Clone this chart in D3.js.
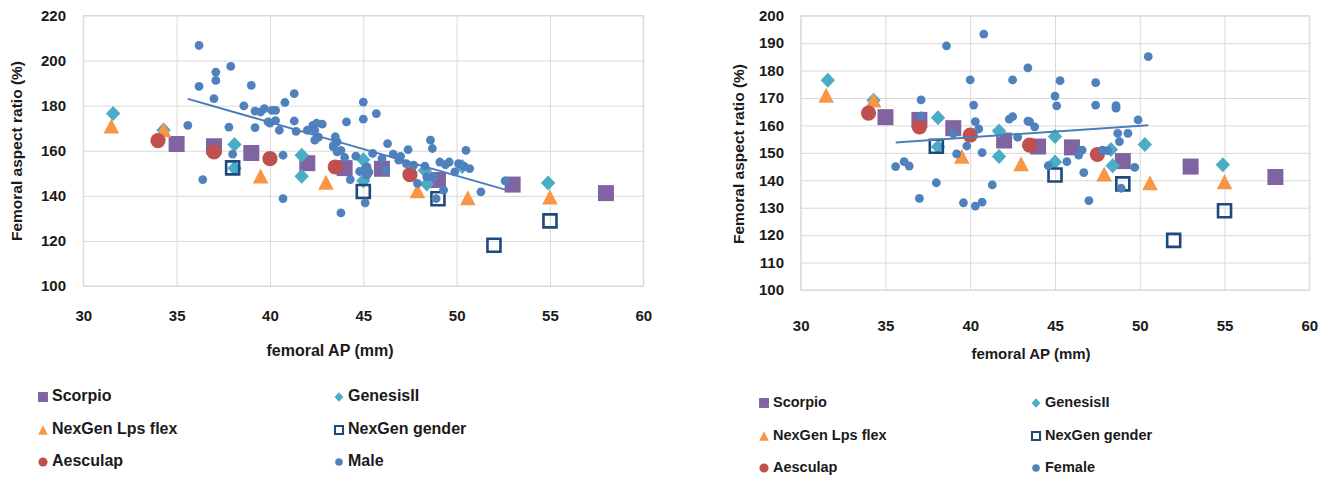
<!DOCTYPE html>
<html>
<head>
<meta charset="utf-8">
<script src="https://cdn.jsdelivr.net/npm/d3@7"></script>
<style>
  body { margin: 0; background: #fff; }
  text { font-family: "Liberation Sans", Arial, sans-serif; font-weight: bold; fill: #1a1a1a; }
</style>
</head>
<body>
<svg id="chart" width="1330" height="477"></svg>
<script>
// implant sizes: [femoral AP (mm), aspect ratio (%)]
const scorpio = [[35, 163], [37, 162], [39, 159], [42, 154.5], [44, 152.3], [46, 152], [49, 147], [53, 145], [58, 141.2]];
const genesisII = [[31.6, 176.5], [34.3, 169.2], [38.1, 162.8], [38.1, 152.2], [41.7, 158], [41.7, 148.7],
  [45, 156], [45, 146.7], [48.3, 151.2], [48.4, 145.3], [50.3, 153], [54.9, 145.7]];
const nexgenLps = [[31.5, 171], [34.3, 169.3], [39.5, 148.8], [43, 146], [47.9, 142.3], [50.6, 139.1], [55, 139.5]];
const nexgenGender = [[38, 152.4], [45, 141.9], [49, 138.7], [52, 118.1], [55, 128.9]];
const aesculap = [[34, 164.5], [37, 159.5], [40, 156.5], [43.5, 152.8], [47.5, 149.4]];

// measured population
const male = [
  [36.2, 206.7], [37.9, 197.4], [37.1, 194.9], [37.1, 191.2], [36.2, 188.6], [39.0, 189.0], [41.3, 185.3],
  [37.0, 183.1], [40.8, 181.4], [38.6, 179.9], [39.2, 177.6], [39.7, 178.7], [40.3, 177.9], [39.5, 177.2],
  [40.1, 177.9], [39.9, 172.8], [40.3, 173.4], [40.0, 172.3], [39.2, 170.3], [40.5, 169.1], [41.3, 173.2],
  [35.6, 171.3], [37.8, 170.5], [41.4, 168.6], [42.0, 169.1], [42.3, 171.3], [42.5, 172.2], [42.8, 171.8],
  [42.4, 169.1], [42.4, 164.7], [42.6, 166.0], [43.5, 166.2], [43.4, 162.4], [43.6, 163.9], [38.0, 158.5],
  [40.7, 158.0], [36.4, 147.2], [40.7, 138.8], [43.8, 132.4], [45.0, 181.6], [45.7, 176.5], [45.0, 174.0],
  [44.1, 172.8], [43.4, 161.7], [43.8, 160.2], [44.6, 157.6], [45.5, 158.8], [46.3, 163.2], [46.6, 158.5],
  [46.9, 155.8], [47.4, 160.5], [48.6, 164.7], [48.7, 161.0], [47.7, 153.6], [47.3, 154.3], [49.1, 155.0],
  [49.6, 155.0], [50.1, 154.3], [50.4, 153.1], [50.7, 152.1], [50.5, 160.2], [49.9, 150.6], [45.1, 152.1],
  [45.2, 149.2], [45.3, 150.5], [44.3, 147.2], [47.9, 145.5], [48.4, 148.4], [48.8, 148.4], [49.3, 142.5],
  [48.9, 138.8], [45.1, 136.9], [51.3, 141.8], [52.6, 146.6], [46.2, 151.4], [45.2, 152.8], [43.6, 159.5],
  [44.0, 157.0], [46.0, 156.5], [47.0, 157.5], [48.3, 153.2], [49.4, 153.8], [44.8, 150.8]
];
const female = [
  [40.8, 193.3], [38.6, 189.0], [43.4, 181.0], [40.0, 176.6], [42.5, 176.6], [37.1, 169.3], [40.2, 167.4],
  [37.1, 163.5], [42.3, 162.3], [42.5, 163.2], [43.4, 161.6], [40.3, 161.4], [40.5, 158.7], [39.0, 157.0],
  [42.8, 155.7], [39.8, 152.5], [39.2, 149.6], [40.7, 150.1], [35.6, 145.0], [36.1, 146.8], [36.4, 145.2],
  [38.0, 139.1], [41.3, 138.3], [37.0, 133.4], [39.6, 131.8], [40.3, 130.6], [40.7, 132.0], [50.5, 185.1],
  [45.3, 176.3], [47.4, 175.6], [45.0, 170.7], [45.1, 167.1], [47.4, 167.4], [48.6, 167.2], [48.6, 166.3],
  [43.5, 161.4], [43.8, 159.5], [49.9, 162.0], [48.7, 157.1], [49.3, 157.1], [48.8, 154.1], [46.6, 151.0],
  [46.4, 149.2], [47.8, 151.0], [48.1, 150.8], [45.7, 146.8], [44.6, 145.3], [49.7, 144.7], [46.7, 142.8],
  [47.0, 132.6], [48.9, 137.1]
];

const xTicks = [30, 35, 40, 45, 50, 55, 60];
const yTicksMale = [100, 120, 140, 160, 180, 200, 220];
const yTicksFemale = [100, 110, 120, 130, 140, 150, 160, 170, 180, 190, 200];

const series = [
  { name: 'Scorpio', shape: 'square', color: '#8064A2', data: scorpio },
  { name: 'GenesisII', shape: 'diamond', color: '#4BACC6', data: genesisII },
  { name: 'NexGen Lps flex', shape: 'triangle', color: '#F79646', data: nexgenLps },
  { name: 'NexGen gender', shape: 'open', color: '#1F497D', data: nexgenGender },
  { name: 'Aesculap', shape: 'circle', color: '#C0504D', data: aesculap }
];

const svg = d3.select('#chart');

function shapePath(shape, s) {
  if (shape === 'square') return `M${-8 * s},${-8 * s}h${16 * s}v${16 * s}h${-16 * s}Z`;
  if (shape === 'open') return `M${-6.5 * s},${-6.5 * s}h${13 * s}v${13 * s}h${-13 * s}Z`;
  if (shape === 'diamond') return `M0,${-7.5 * s}L${7.2 * s},0L0,${7.5 * s}L${-7.2 * s},0Z`;
  if (shape === 'triangle') return `M0,${-7.5 * s}L${7.8 * s},${7.5 * s}L${-7.8 * s},${7.5 * s}Z`;
  return d3.symbol(d3.symbolCircle, Math.PI * 7.6 * 7.6 * s * s)();
}

function addMarker(sel, shape, color, s) {
  const p = sel.append('path').attr('d', shapePath(shape, s));
  if (shape === 'open') p.attr('fill', 'none').attr('stroke', color).attr('stroke-width', 2.6 * Math.max(s, 0.8));
  else p.attr('fill', color);
  return p;
}

function regression(pts) {
  const mx = d3.mean(pts, d => d[0]), my = d3.mean(pts, d => d[1]);
  const b = d3.sum(pts, d => (d[0] - mx) * (d[1] - my)) / d3.sum(pts, d => (d[0] - mx) ** 2);
  return x => my + b * (x - mx);
}

function drawPanel(cfg) {
  const x = d3.scaleLinear().domain([30, 60]).range([cfg.left, cfg.right]);
  const y = d3.scaleLinear().domain([cfg.yTicks[0], cfg.yTicks[cfg.yTicks.length - 1]]).range([cfg.bottom, cfg.top]);
  const g = svg.append('g');

  // gridlines
  g.append('g')
    .attr('transform', `translate(0,${cfg.bottom})`)
    .call(d3.axisBottom(x).tickValues(xTicks).tickSize(-(cfg.bottom - cfg.top)).tickFormat(''))
    .call(a => a.select('.domain').remove())
    .selectAll('line').attr('stroke', '#D9D9D9');
  g.append('g')
    .attr('transform', `translate(${cfg.left},0)`)
    .call(d3.axisLeft(y).tickValues(cfg.yTicks).tickSize(-(cfg.right - cfg.left)).tickFormat(''))
    .call(a => a.select('.domain').remove())
    .selectAll('line').attr('stroke', '#D9D9D9');
  g.append('rect')
    .attr('x', cfg.left).attr('y', cfg.top)
    .attr('width', cfg.right - cfg.left).attr('height', cfg.bottom - cfg.top)
    .attr('fill', 'none').attr('stroke', '#D9D9D9');

  // tick labels
  g.append('g')
    .attr('transform', `translate(0,${cfg.xLabelY})`)
    .call(d3.axisBottom(x).tickValues(xTicks).tickSize(0).tickPadding(0))
    .call(a => a.select('.domain').remove())
    .selectAll('text').attr('font-size', 15).attr('dy', '0.35em').style('font-family', null);
  g.append('g')
    .attr('transform', `translate(${cfg.yLabelX},0)`)
    .call(d3.axisLeft(y).tickValues(cfg.yTicks).tickSize(0).tickPadding(0))
    .call(a => a.select('.domain').remove())
    .selectAll('text').attr('font-size', 15).style('font-family', null);
  g.selectAll('.tick text').attr('fill', '#1a1a1a');

  // axis titles
  g.append('text')
    .attr('x', cfg.xTitleX).attr('y', cfg.xTitleY)
    .attr('text-anchor', 'middle').attr('dominant-baseline', 'middle')
    .attr('font-size', cfg.titleSize).text('femoral AP (mm)');
  g.append('text')
    .attr('transform', `translate(${cfg.yTitleX},${cfg.yTitleY}) rotate(-90)`)
    .attr('text-anchor', 'middle').attr('dominant-baseline', 'middle')
    .attr('font-size', 15.5).text('Femoral aspect ratio (%)');

  // implant series
  series.forEach(sr => {
    g.append('g').selectAll('g').data(sr.data).enter().append('g')
      .attr('transform', d => `translate(${x(d[0])},${y(d[1])})`)
      .each(function () { addMarker(d3.select(this), sr.shape, sr.color, 1); });
  });

  // population dots
  g.append('g').selectAll('circle').data(cfg.pop).enter().append('circle')
    .attr('cx', d => x(d[0])).attr('cy', d => y(d[1])).attr('r', 4.4)
    .attr('fill', '#4F81BD');

  // linear trend line
  const f = regression(cfg.pop);
  const ext = d3.extent(cfg.pop, d => d[0]);
  g.append('line')
    .attr('x1', x(ext[0])).attr('y1', y(f(ext[0])))
    .attr('x2', x(ext[1])).attr('y2', y(f(ext[1])))
    .attr('stroke', '#4A7EBB').attr('stroke-width', 2);

  // legend
  const items = series.map(s => ({ name: s.name, shape: s.shape, color: s.color }))
    .concat([{ name: cfg.popName, shape: 'dot', color: '#4F81BD' }]);
  const lg = g.append('g').selectAll('g').data(items).enter().append('g')
    .attr('transform', (d, i) => `translate(${cfg.legendCols[i % 2]},${cfg.legendRows[Math.floor(i / 2)]})`);
  lg.each(function (d) {
    const sel = d3.select(this);
    if (d.shape === 'dot') sel.append('circle').attr('r', 3.8).attr('fill', d.color);
    else addMarker(sel, d.shape, d.color, d.shape === 'circle' ? 0.6 : 0.62);
  });
  lg.append('text').attr('x', 9).attr('dominant-baseline', 'middle')
    .attr('font-size', cfg.legendSize).text(d => d.name);
}

drawPanel({
  left: 83.3, right: 643.3, top: 15.5, bottom: 286, yTicks: yTicksMale, pop: male, popName: 'Male',
  xLabelY: 316, yLabelX: 66, xTitleX: 330, xTitleY: 352, yTitleX: 18, yTitleY: 151,
  legendCols: [43, 339], legendRows: [397, 430, 462], titleSize: 16, legendSize: 16
});
drawPanel({
  left: 800.7, right: 1309.3, top: 15.7, bottom: 290, yTicks: yTicksFemale, pop: female, popName: 'Female',
  xLabelY: 326, yLabelX: 784, xTitleX: 1031, xTitleY: 355, yTitleX: 740, yTitleY: 154,
  legendCols: [764, 1036], legendRows: [403, 436, 468], titleSize: 15, legendSize: 14.5
});
</script>
</body>
</html>
